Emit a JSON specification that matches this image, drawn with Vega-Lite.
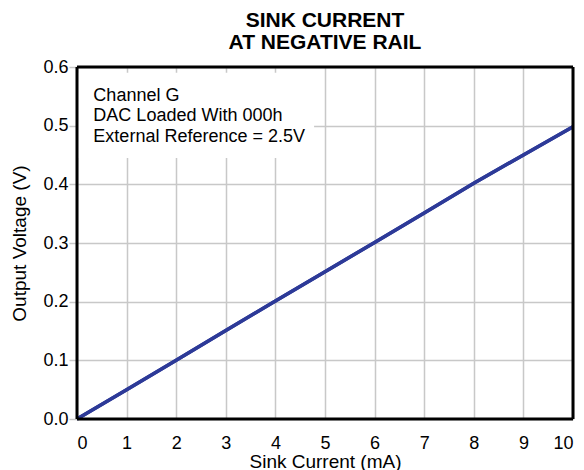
{
  "$schema": "https://vega.github.io/schema/vega-lite/v6.json",
  "width": 496,
  "height": 352,
  "autosize": "none",
  "padding": {"left": 77, "top": 67, "right": 11, "bottom": 51},
  "background": "white",
  "config": {
    "font": "Liberation Sans",
    "view": {"stroke": null},
    "axis": {
      "gridColor": "#c8c8c8",
      "gridWidth": 1.5,
      "gridOpacity": 1,
      "domain": false,
      "labelColor": "black",
      "labelFontSize": 18,
      "titleColor": "black",
      "titleFontSize": 19,
      "titleFontWeight": "normal"
    }
  },
  "title": {
    "text": ["SINK CURRENT", "AT NEGATIVE RAIL"],
    "fontSize": 21,
    "fontWeight": "bold",
    "lineHeight": 22,
    "anchor": "middle",
    "baseline": "bottom",
    "offset": -16,
    "color": "black"
  },
  "datasets": {
    "curve": [
      {"current": 0, "voltage": 0.0},
      {"current": 1, "voltage": 0.05},
      {"current": 2, "voltage": 0.1},
      {"current": 3, "voltage": 0.151},
      {"current": 4, "voltage": 0.201},
      {"current": 5, "voltage": 0.251},
      {"current": 6, "voltage": 0.301},
      {"current": 7, "voltage": 0.351},
      {"current": 8, "voltage": 0.402},
      {"current": 9, "voltage": 0.45},
      {"current": 10, "voltage": 0.498}
    ],
    "box": [{"x0": 0, "x1": 4.78, "y0": 0.445, "y1": 0.59}],
    "notes": [
      {"tx": 0.33, "ty": 0.551, "label": "Channel G"},
      {"tx": 0.33, "ty": 0.516, "label": "DAC Loaded With 000h"},
      {"tx": 0.33, "ty": 0.481, "label": "External Reference = 2.5V"}
    ],
    "vborders": [{"bx": 0}, {"bx": 10}],
    "hborders": [{"by": 0}, {"by": 0.6}]
  },
  "layer": [
    {
      "data": {"name": "curve"},
      "mark": {"type": "line", "color": "#2d3a98", "strokeWidth": 3.5},
      "encoding": {
        "x": {
          "field": "current", "type": "quantitative",
          "scale": {"domain": [0, 10], "nice": false},
          "axis": {
            "title": "Sink Current (mA)",
            "values": [0, 1, 2, 3, 4, 5, 6, 7, 8, 9, 10],
            "format": "d",
            "ticks": false,
            "tickSize": 0,
            "labelPadding": 15,
            "titlePadding": 0
          }
        },
        "y": {
          "field": "voltage", "type": "quantitative",
          "scale": {"domain": [0, 0.6], "nice": false},
          "axis": {
            "title": "Output Voltage (V)",
            "values": [0, 0.1, 0.2, 0.3, 0.4, 0.5, 0.6],
            "format": ".1f",
            "tickSize": 8,
            "tickColor": "#c8c8c8",
            "tickWidth": 1.5,
            "labelPadding": 1,
            "titlePadding": 13
          }
        }
      }
    },
    {
      "data": {"name": "box"},
      "mark": {"type": "rect", "fill": "white"},
      "encoding": {
        "x": {"field": "x0", "type": "quantitative"},
        "x2": {"field": "x1"},
        "y": {"field": "y0", "type": "quantitative"},
        "y2": {"field": "y1"}
      }
    },
    {
      "data": {"name": "notes"},
      "mark": {"type": "text", "align": "left", "baseline": "middle", "fontSize": 18, "color": "black"},
      "encoding": {
        "x": {"field": "tx", "type": "quantitative"},
        "y": {"field": "ty", "type": "quantitative"},
        "text": {"field": "label"}
      }
    },
    {
      "data": {"name": "curve"},
      "mark": {"type": "line", "color": "#2d3a98", "strokeWidth": 3.5},
      "encoding": {
        "x": {"field": "current", "type": "quantitative"},
        "y": {"field": "voltage", "type": "quantitative"}
      }
    },
    {
      "data": {"name": "vborders"},
      "mark": {"type": "rule", "color": "black", "strokeWidth": 3},
      "encoding": {
        "x": {"field": "bx", "type": "quantitative"}
      }
    },
    {
      "data": {"name": "hborders"},
      "mark": {"type": "rule", "color": "black", "strokeWidth": 3},
      "encoding": {
        "y": {"field": "by", "type": "quantitative"}
      }
    }
  ]
}
